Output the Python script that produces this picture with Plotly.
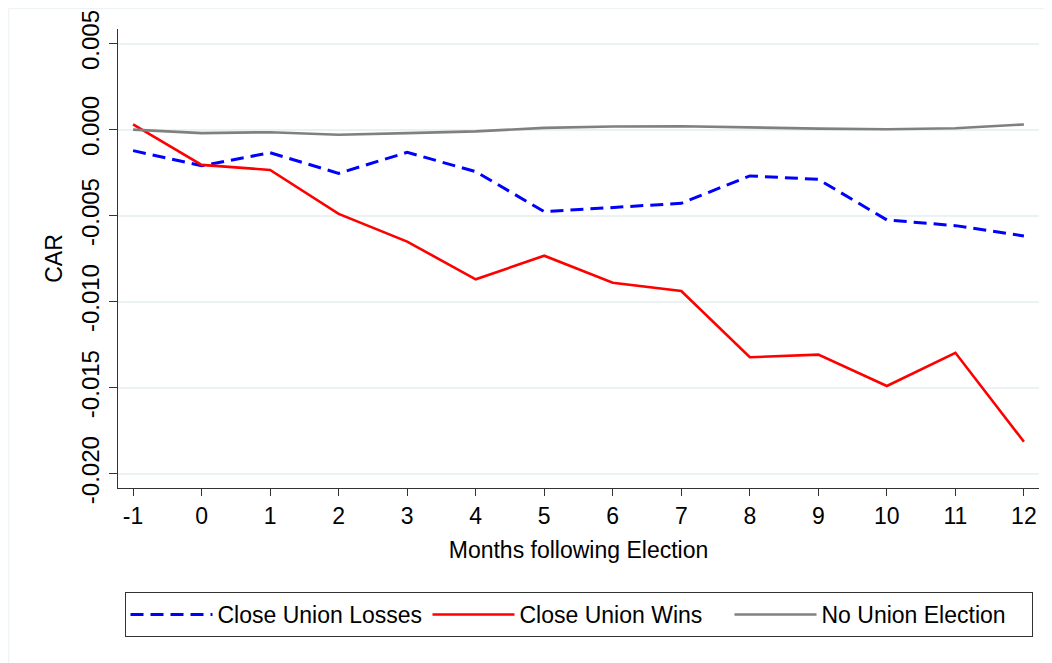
import plotly.graph_objects as go

months = [-1, 0, 1, 2, 3, 4, 5, 6, 7, 8, 9, 10, 11, 12]
close_union_losses = [-0.00122, -0.00210, -0.00134, -0.00254, -0.00132, -0.00244, -0.00477,
                      -0.00452, -0.00428, -0.00269, -0.00289, -0.00525, -0.00558, -0.00618]
close_union_wins = [0.00031, -0.00205, -0.00234, -0.00490, -0.00651, -0.00870, -0.00733,
                    -0.00890, -0.00938, -0.01323, -0.01308, -0.01490, -0.01297, -0.01814]
no_union_election = [0.00000, -0.00020, -0.00015, -0.00030, -0.00020, -0.00010, 0.00010,
                     0.00018, 0.00020, 0.00012, 0.00006, 0.00002, 0.00008, 0.00030]
y_ticks = [-0.020, -0.015, -0.010, -0.005, 0.000, 0.005]
y_tick_labels = ["-0.020", "-0.015", "-0.010", "-0.005", "0.000", "0.005"]
x_ticks = months
x_tick_labels = [str(m) for m in months]

FONT = "Liberation Sans, Arial, sans-serif"

fig = go.Figure()
fig.add_trace(go.Scatter(x=months, y=close_union_losses, mode="lines", name="Close Union Losses",
                         line=dict(color="#0000ff", width=3, dash="13px,7px")))
fig.add_trace(go.Scatter(x=months, y=close_union_wins, mode="lines", name="Close Union Wins",
                         line=dict(color="#ff0000", width=2.6)))
fig.add_trace(go.Scatter(x=months, y=no_union_election, mode="lines", name="No Union Election",
                         line=dict(color="#808080", width=2.6)))

fig.update_layout(
    width=1044, height=655,
    margin=dict(l=110, r=13, t=21, b=175),
    paper_bgcolor="white", plot_bgcolor="white",
    font=dict(family=FONT, size=23, color="#000000"),
    showlegend=True,
    legend=dict(
        orientation="h", x=0.5, xanchor="center", y=-0.2266, yanchor="top",
        bordercolor="#333333", borderwidth=1, bgcolor="white",
        font=dict(family=FONT, size=23, color="#000000"),
        itemwidth=82, entrywidth=205, entrywidthmode="pixels", traceorder="normal",
    ),
    xaxis=dict(
        range=[-1.22, 12.22], tickvals=x_ticks, ticktext=x_tick_labels,
        showgrid=False, zeroline=False, showline=True, linecolor="#333333", linewidth=1.3,
        ticks="outside", ticklen=7, tickcolor="#333333", tickwidth=1.3,
        title=dict(text="Months following Election", standoff=14, font=dict(size=23)),
        tickfont=dict(size=23), automargin=False,
    ),
    yaxis=dict(
        range=[-0.02083, 0.00585], tickvals=y_ticks, ticktext=y_tick_labels,
        showgrid=True, gridcolor="#eaf2f3", gridwidth=1.5, zeroline=False,
        showline=True, linecolor="#333333", linewidth=1.3,
        ticks="outside", ticklen=8, tickcolor="#333333", tickwidth=1.3,
        tickangle=-90, tickfont=dict(size=24),
        title=dict(text="CAR", standoff=8, font=dict(size=23)), automargin=False,
    ),
    shapes=[
        dict(type="line", xref="paper", yref="paper", x0=-0.1189, x1=1.1, y0=1.0447, y1=1.0447,
             line=dict(color="#eef3f5", width=1.5), layer="below"),
        dict(type="line", xref="paper", yref="paper", x0=-0.1189, x1=-0.1189, y0=1.0447, y1=-0.5,
             line=dict(color="#eef3f5", width=1.5), layer="below"),
    ],
)

fig.write_html("out.html")
